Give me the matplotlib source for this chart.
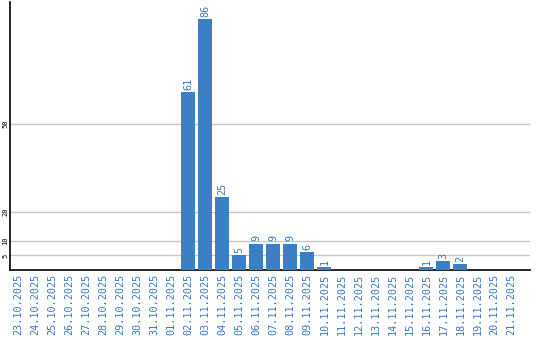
import matplotlib
matplotlib.use("Agg")
import matplotlib.pyplot as plt

dates = ["23.10.2025", "24.10.2025", "25.10.2025", "26.10.2025", "27.10.2025",
         "28.10.2025", "29.10.2025", "30.10.2025", "31.10.2025", "01.11.2025",
         "02.11.2025", "03.11.2025", "04.11.2025", "05.11.2025", "06.11.2025",
         "07.11.2025", "08.11.2025", "09.11.2025", "10.11.2025", "11.11.2025",
         "12.11.2025", "13.11.2025", "14.11.2025", "15.11.2025", "16.11.2025",
         "17.11.2025", "18.11.2025", "19.11.2025", "20.11.2025", "21.11.2025"]
values = [0, 0, 0, 0, 0, 0, 0, 0, 0, 0,
          61, 86, 25, 5, 9, 9, 9, 6, 1, 0,
          0, 0, 0, 0, 1, 3, 2, 0, 0, 0]
yticks = [5, 10, 20, 50]

bar_color = "#3d7fc4"
text_color = "#3a78c0"

fig = plt.figure(figsize=(5.4, 3.4), dpi=100)
W, H = 540, 340
left, right, top, bottom = 10, 530, 2, 270
ax = fig.add_axes([left / W, 1 - bottom / H, (right - left) / W, (bottom - top) / H])

x = list(range(len(dates)))
ax.bar(x, values, width=0.82, color=bar_color, zorder=3)
for xi, v in zip(x, values):
    if v > 0:
        ax.text(xi, v + 0.8, str(v), rotation=90, ha="center", va="bottom",
                color=text_color, fontsize=7.3, family="DejaVu Sans Mono", zorder=4)

ax.set_xlim(-0.5, 30.1)
ax.set_ylim(0, (bottom - top) / 2.92)
ax.set_yticks(yticks)
ax.set_yticklabels([str(t) for t in yticks], rotation=90, va="center",
                   fontsize=5, family="DejaVu Sans Mono", color="black")
ax.set_xticks(x)
ax.set_xticklabels(dates, rotation=90, fontsize=7.3, family="DejaVu Sans Mono",
                   color=text_color, va="top")
ax.tick_params(axis="x", length=0, pad=3)
ax.tick_params(axis="y", length=0, pad=1)
ax.grid(axis="y", color="#c8c8c8", linewidth=1, zorder=0)
for s in ["top", "right"]:
    ax.spines[s].set_visible(False)
ax.spines["left"].set_linewidth(1.2)
ax.spines["bottom"].set_linewidth(1.2)

fig.savefig("out.png", dpi=100)
